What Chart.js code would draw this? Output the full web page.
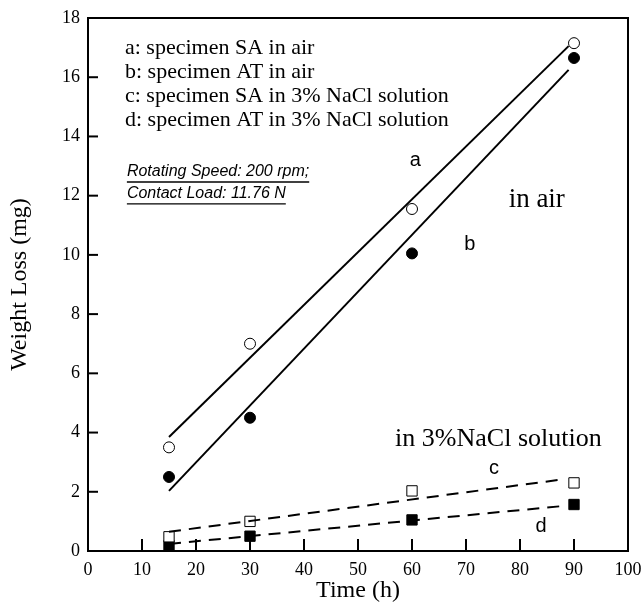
<!DOCTYPE html>
<html>
<head>
<meta charset="utf-8">
<script src="https://cdn.jsdelivr.net/npm/chart.js@4.4.1/dist/chart.umd.min.js"></script>
<style>
  html, body { margin: 0; padding: 0; background: #fff; }
  #wrap { width: 642px; height: 610px; }
</style>
</head>
<body>
<div id="wrap"><canvas id="grafico"></canvas></div>
<script>
// tempos de ensaio (h)
const tempos = [15, 30, 60, 90];

// perda de massa (mg)
const saAr = [3.5, 7.0, 11.55, 17.15];
const atAr = [2.5, 4.5, 10.05, 16.65];
const saNacl = [0.48, 1.0, 2.03, 2.3];
const atNacl = [0.18, 0.5, 1.05, 1.57];

// retas ajustadas: [x inicial, x final] e [y inicial, y final]
const retaX = [15, 89];
const retaA = [3.85, 17.05];
const retaB = [2.03, 16.25];
const retaXnacl = [15, 88];
const retaC = [0.65, 2.42];
const retaD = [0.24, 1.52];

const ticksX = [0, 10, 20, 30, 40, 50, 60, 70, 80, 90, 100];
const ticksY = [0, 2, 4, 6, 8, 10, 12, 14, 16, 18];

const legenda = [
    'a: specimen SA in air',
    'b: specimen AT in air',
    'c: specimen SA in 3% NaCl solution',
    'd: specimen AT in 3% NaCl solution'
];
const condicoes = ['Rotating Speed: 200 rpm;', 'Contact Load: 11.76 N'];

const pontos = (ys) => tempos.map((t, i) => ({ x: t, y: ys[i] }));
const reta = (xs, ys) => xs.map((x, i) => ({ x: x, y: ys[i] }));

const SERIF = '"Liberation Serif", "Times New Roman", serif';
const SANS = '"Liberation Sans", Arial, sans-serif';

// moldura, marcas internas e textos
const extras = {
    id: 'extras',
    afterDatasetsDraw(chart) {
        const ctx = chart.ctx;
        const a = chart.chartArea;
        const sx = chart.scales.x, sy = chart.scales.y;
        ctx.save();
        ctx.strokeStyle = '#000';

        // marcas para dentro
        ctx.lineWidth = 2;
        ticksX.slice(1, -1).forEach(v => {
            const p = sx.getPixelForValue(v);
            ctx.beginPath(); ctx.moveTo(p, a.bottom); ctx.lineTo(p, a.bottom - 12); ctx.stroke();
        });
        ticksY.slice(1, -1).forEach(v => {
            const p = sy.getPixelForValue(v);
            ctx.beginPath(); ctx.moveTo(a.left, p); ctx.lineTo(a.left + 10, p); ctx.stroke();
        });

        // moldura
        ctx.lineWidth = 2;
        ctx.strokeRect(a.left, a.top, a.right - a.left, a.bottom - a.top);

        ctx.fillStyle = '#000';
        ctx.textBaseline = 'middle';

        // legenda em texto
        ctx.textAlign = 'left';
        ctx.font = '22px ' + SERIF;
        const yLeg = [16.99, 16.18, 15.37, 14.56];
        legenda.forEach((t, i) => {
            ctx.fillText(t, sx.getPixelForValue(6.85), sy.getPixelForValue(yLeg[i]));
        });

        // condições do ensaio, itálico sublinhado
        ctx.font = 'italic 16px ' + SANS;
        const yCond = [12.8, 12.06];
        ctx.lineWidth = 1.3;
        condicoes.forEach((t, i) => {
            const px = sx.getPixelForValue(7.2);
            const py = sy.getPixelForValue(yCond[i]);
            ctx.fillText(t, px, py);
            const w = ctx.measureText(t).width;
            ctx.beginPath(); ctx.moveTo(px, py + 10); ctx.lineTo(px + w, py + 10); ctx.stroke();
        });

        // rótulos das retas
        ctx.textAlign = 'center';
        ctx.font = '20px ' + SANS;
        [['a', 60.6, 13.2], ['b', 70.7, 10.34], ['c', 75.2, 2.77], ['d', 83.9, 0.84]].forEach(r => {
            ctx.fillText(r[0], sx.getPixelForValue(r[1]), sy.getPixelForValue(r[2]));
        });

        ctx.font = '27px ' + SERIF;
        ctx.fillText('in air', sx.getPixelForValue(83.1), sy.getPixelForValue(11.85));
        ctx.font = '26px ' + SERIF;
        ctx.fillText('in 3%NaCl solution', sx.getPixelForValue(76.0), sy.getPixelForValue(3.78));
        ctx.restore();
    }
};

const linha = (dados, tracejado) => ({
    data: dados,
    showLine: true,
    borderColor: '#000',
    borderWidth: 2,
    borderDash: tracejado ? [12, 8] : [],
    pointRadius: 0,
    fill: false
});

const marcador = (dados, estilo, cheio, raio) => ({
    data: dados,
    showLine: false,
    pointStyle: estilo,
    pointRadius: raio,
    pointBackgroundColor: cheio ? '#000' : '#fff',
    pointBorderColor: '#000',
    pointBorderWidth: 1,
    borderColor: '#000'
});

new Chart(document.getElementById('grafico'), {
    type: 'scatter',
    data: {
        datasets: [
            linha(reta(retaX, retaA), false),
            linha(reta(retaX, retaB), false),
            linha(reta(retaXnacl, retaC), true),
            linha(reta(retaXnacl, retaD), true),
            marcador(pontos(saAr), 'circle', false, 5.5),
            marcador(pontos(atAr), 'circle', true, 5.5),
            marcador(pontos(saNacl), 'rect', false, 7.3),
            marcador(pontos(atNacl), 'rect', true, 7.3)
        ]
    },
    options: {
        responsive: true,
        maintainAspectRatio: false,
        animation: false,
        layout: { padding: { left: 0, top: 18, right: 14, bottom: 0 } },
        plugins: { legend: { display: false }, tooltip: { enabled: false } },
        scales: {
            x: {
                type: 'linear', min: 0, max: 100,
                afterBuildTicks: s => { s.ticks = ticksX.map(v => ({ value: v })); },
                afterFit: s => { s.height = 59; s.paddingLeft = 0; s.paddingRight = 0; },
                grid: { display: false, drawTicks: false },
                border: { display: false },
                ticks: { color: '#000', padding: 8, font: { family: SERIF, size: 18 } },
                title: { display: true, text: 'Time (h)', color: '#000', padding: { top: 0, bottom: 5 }, font: { family: SERIF, size: 24 } }
            },
            y: {
                type: 'linear', min: 0, max: 18,
                afterBuildTicks: s => { s.ticks = ticksY.map(v => ({ value: v })); },
                afterFit: s => { s.width = 88; s.paddingTop = 0; s.paddingBottom = 0; },
                grid: { display: false, drawTicks: false },
                border: { display: false },
                ticks: { color: '#000', padding: 8, font: { family: SERIF, size: 18 } },
                title: { display: true, text: 'Weight Loss (mg)', color: '#000', padding: { top: 5, bottom: 4 }, font: { family: SERIF, size: 24 } }
            }
        }
    },
    plugins: [extras]
});
</script>
</body>
</html>
